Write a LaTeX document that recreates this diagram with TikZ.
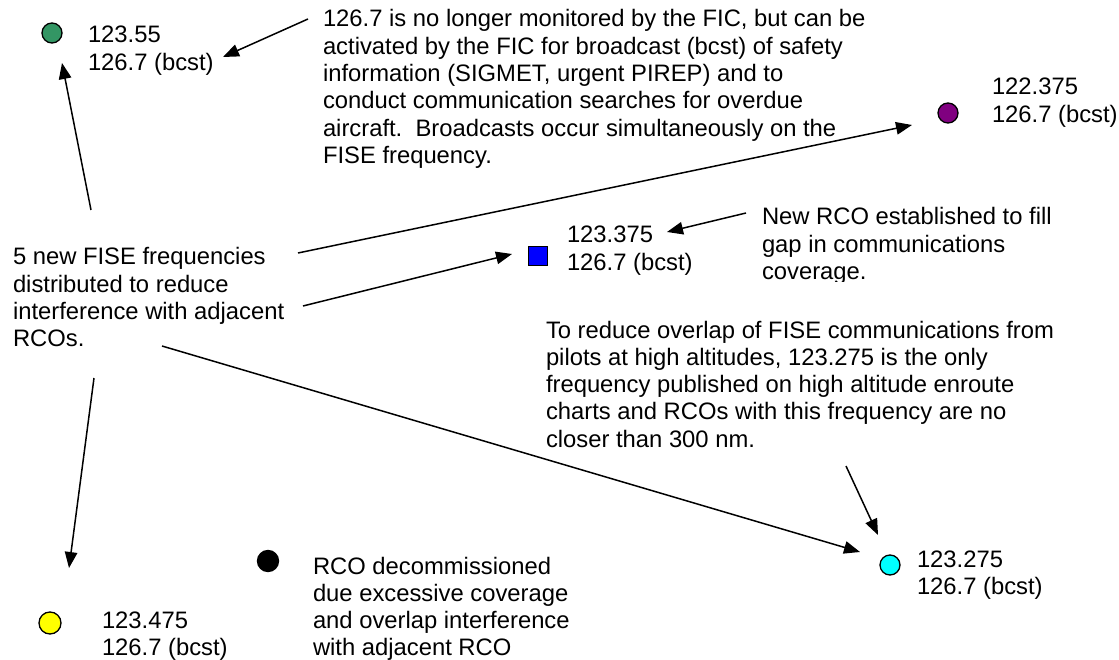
\documentclass[tikz,border=0pt]{standalone}
\usepackage{fontspec}
\setmainfont{Liberation Sans}
\usetikzlibrary{arrows.meta}
\definecolor{rcogreen}{RGB}{51,150,100}
\definecolor{rcopurple}{RGB}{128,0,128}
\definecolor{rcocyan}{RGB}{0,255,255}
\definecolor{rcoyellow}{RGB}{255,255,0}
\definecolor{rcoblue}{RGB}{0,0,255}
\newcommand{\rows}[1]{\begin{tabular}[t]{@{}l@{}}#1\end{tabular}}
\tikzset{
  lbl/.style={anchor=base west, inner sep=0pt, outer sep=0pt, font=\fontsize{23.8}{27.3}\selectfont},
  conn/.style={line width=1.5pt, -{Triangle[length=16pt,width=12.5pt]}},
  site/.style={circle, draw=black, line width=1.3pt, minimum size=20pt, inner sep=0pt},
  sqsite/.style={rectangle, draw=black, line width=1.3pt, minimum size=19pt, inner sep=0pt}
}
\begin{document}
\begin{tikzpicture}[x=1pt,y=-1pt]
\fill[white] (0,0) rectangle (1119,660);
\useasboundingbox (0,0) rectangle (1119,660);

% sites
\node[site, fill=rcogreen] (gc) at (52,33) {};
\node[site, fill=rcopurple] (pc) at (948,113) {};
\node[sqsite, fill=rcoblue] (bs) at (538,256) {};
\node[site, fill=rcocyan] (cc) at (890,565) {};
\node[site, fill=black, minimum size=21pt] (kc) at (268,561) {};
\node[site, fill=rcoyellow, minimum size=22pt] (yc) at (50,623) {};

% labels
\node[lbl] (tg) at (88,43) {\rows{123.55\\126.7 (bcst)}};
\node[lbl] (tp) at (323,27) {\rows{126.7 is no longer monitored by the FIC, but can be\\
activated by the FIC for broadcast (bcst) of safety\\
information (SIGMET, urgent PIREP) and to\\
conduct communication searches for overdue\\
aircraft.\ \ Broadcasts occur simultaneously on the\\
FISE frequency.}};
\node[lbl] (pv) at (992,95) {\rows{122.375\\126.7 (bcst)}};
\node[lbl] (bt) at (567,243) {\rows{123.375\\126.7 (bcst)}};
\begin{scope}
\clip (750,190) rectangle (1119,282);
\node[lbl] (nr) at (762,225) {\rows{New RCO established to fill\\gap in communications\\coverage.}};
\end{scope}
\node[lbl] (mt) at (13,265) {\rows{5 new FISE frequencies\\distributed to reduce\\interference with adjacent\\RCOs.}};
\node[lbl] (jt) at (546,338) {\rows{To reduce overlap of FISE communications from\\
pilots at high altitudes, 123.275 is the only\\
frequency published on high altitude enroute\\
charts and RCOs with this frequency are no\\
closer than 300 nm.}};
\node[lbl] (ct) at (917,567) {\rows{123.275\\126.7 (bcst)}};
\node[lbl] (dt) at (313,574) {\rows{RCO decommissioned\\due excessive coverage\\and overlap interference\\with adjacent RCO}};
\node[lbl] (yt) at (102,628) {\rows{123.475\\126.7 (bcst)}};

% connector ends
\coordinate (b1) at (308,19);  \coordinate (b2) at (223,57);
\coordinate (c1) at (298,253); \coordinate (c2) at (912,125);
\coordinate (d1) at (303,306); \coordinate (d2) at (512,254);
\coordinate (e1) at (746,213); \coordinate (e2) at (667,232);
\coordinate (g1) at (91,210);  \coordinate (g2) at (62,63);
\coordinate (h1) at (94,378);  \coordinate (h2) at (69,568);
\coordinate (i1) at (162,346); \coordinate (i2) at (860,552);
\coordinate (k1) at (846,466); \coordinate (k2) at (878,535);

\draw[conn] (b1) -- (b2);
\draw[conn] (c1) -- (c2);
\draw[conn] (d1) -- (d2);
\draw[conn] (e1) -- (e2);
\draw[conn] (g1) -- (g2);
\draw[conn] (h1) -- (h2);
\draw[conn] (i1) -- (i2);
\draw[conn] (k1) -- (k2);
\end{tikzpicture}
\end{document}
